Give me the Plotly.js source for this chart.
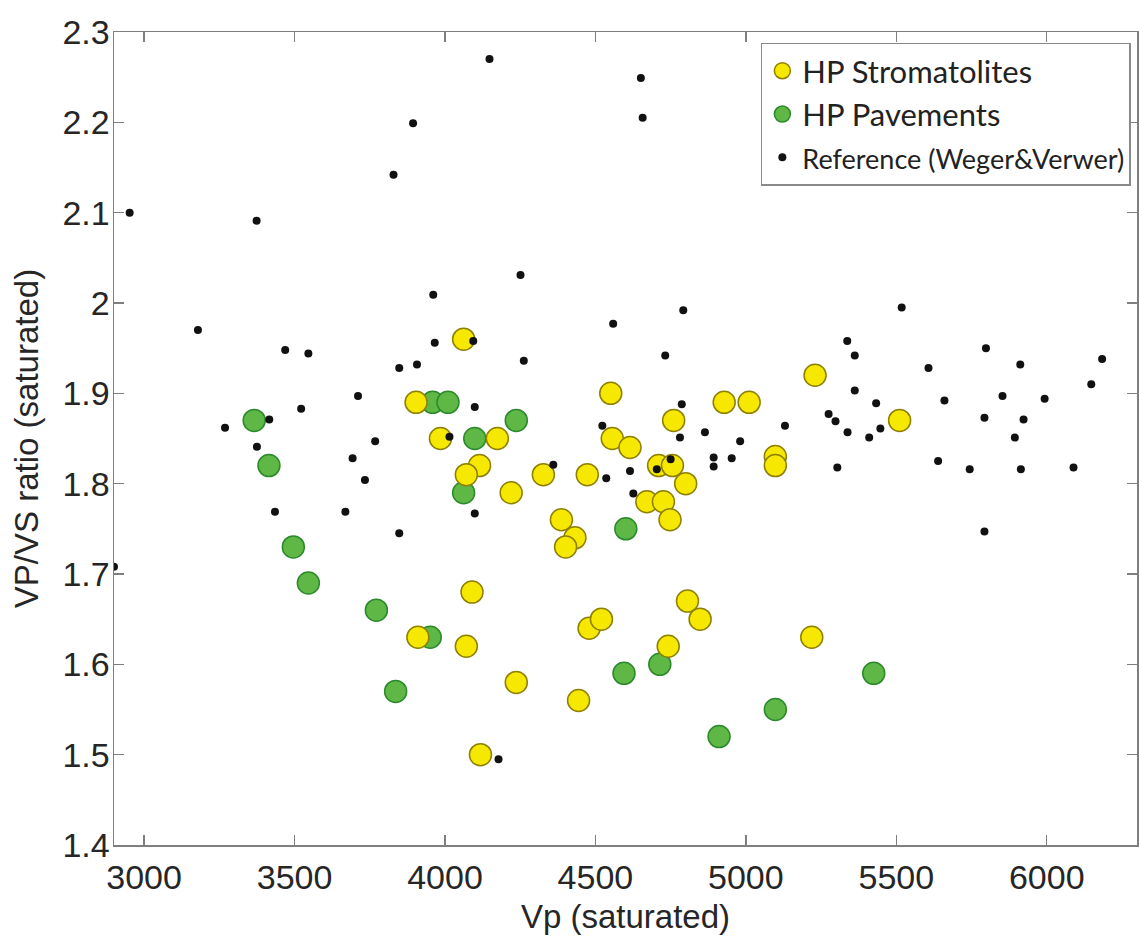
<!DOCTYPE html>
<html>
<head>
<meta charset="utf-8">
<script src="https://cdn.plot.ly/plotly-3.0.1.min.js"></script>
<style>html,body{margin:0;padding:0;background:#fff;}#chart{width:1139px;height:942px;}</style>
</head>
<body>
<div id="chart"></div>
<script>
// HP Stromatolites
const stromVp = [4062, 3904, 3985, 4174, 4115, 4071, 4220, 4327, 4473, 4551,
                 4556, 4615, 4760, 4928, 5011, 4710, 4756, 4800, 4671, 4726,
                 4748, 4387, 4432, 4401, 5098, 5098, 5230, 5511, 4090, 3910,
                 4071, 4237, 4444, 4118, 4479, 4520, 4806, 4848, 4742, 5219];
const stromRatio = [1.96, 1.89, 1.85, 1.85, 1.82, 1.81, 1.79, 1.81, 1.81, 1.90,
                    1.85, 1.84, 1.87, 1.89, 1.89, 1.82, 1.82, 1.80, 1.78, 1.78,
                    1.76, 1.76, 1.74, 1.73, 1.83, 1.82, 1.92, 1.87, 1.68, 1.63,
                    1.62, 1.58, 1.56, 1.50, 1.64, 1.65, 1.67, 1.65, 1.62, 1.63];
// HP Pavements
const paveVp = [3366, 3415, 3496, 3546, 3772, 3836, 3959, 4010, 4237, 4099,
                4062, 4601, 3951, 4595, 4714, 4911, 5098, 5425];
const paveRatio = [1.87, 1.82, 1.73, 1.69, 1.66, 1.57, 1.89, 1.89, 1.87, 1.85,
                   1.79, 1.75, 1.63, 1.59, 1.60, 1.52, 1.55, 1.59];
// Reference (Weger & Verwer)
const refVp = [2952, 3374, 3829, 4148, 3894, 4651, 4657, 4251, 3961, 4792,
               4559, 5518, 3179, 3469, 3546, 3848, 3907, 3711, 3522, 3416,
               3269, 3375, 3768, 3693, 3734, 3435, 3669, 3848, 2900, 3966,
               4094, 4262, 4732, 4099, 4787, 4523, 4864, 4781, 4981, 4015,
               4893, 4953, 4893, 4750, 4704, 4360, 4615, 4536, 4626, 4099,
               4178, 5337, 5362, 5607, 5798, 5912, 6184, 6148, 5362, 5433,
               5660, 5853, 5993, 5275, 5298, 5338, 5410, 5447, 5130, 5793,
               5923, 5894, 5304, 5639, 5744, 5914, 6089, 5793];
const refRatio = [2.10, 2.091, 2.142, 2.270, 2.199, 2.249, 2.205, 2.031, 2.009, 1.992,
                  1.977, 1.995, 1.970, 1.948, 1.944, 1.928, 1.932, 1.897, 1.883, 1.871,
                  1.862, 1.841, 1.847, 1.828, 1.804, 1.769, 1.769, 1.745, 1.708, 1.956,
                  1.958, 1.936, 1.942, 1.885, 1.888, 1.864, 1.857, 1.851, 1.847, 1.852,
                  1.829, 1.828, 1.819, 1.827, 1.816, 1.821, 1.814, 1.806, 1.789, 1.767,
                  1.495, 1.958, 1.942, 1.928, 1.950, 1.932, 1.938, 1.910, 1.903, 1.889,
                  1.892, 1.897, 1.894, 1.877, 1.869, 1.857, 1.851, 1.861, 1.864, 1.873,
                  1.871, 1.851, 1.818, 1.825, 1.816, 1.816, 1.818, 1.747];

const xTicks = [3000, 3500, 4000, 4500, 5000, 5500, 6000];
const yTicks = [1.4, 1.5, 1.6, 1.7, 1.8, 1.9, 2, 2.1, 2.2, 2.3];

const traces = [
  {
    type: 'scatter', mode: 'markers', name: 'HP Pavements',
    x: paveVp, y: paveRatio, legendrank: 2,
    marker: {size: 22, color: '#5FB845', line: {color: '#2B8A2B', width: 1.5}}
  },
  {
    type: 'scatter', mode: 'markers', name: 'HP Stromatolites',
    x: stromVp, y: stromRatio, legendrank: 1,
    marker: {size: 22, color: '#F6E800', line: {color: '#8E8000', width: 1.5}}
  },
  {
    type: 'scatter', mode: 'markers',
    name: '<span style="font-size:27px">Reference (Weger&amp;Verwer)</span>',
    x: refVp, y: refRatio, legendrank: 3,
    marker: {size: 8, color: '#111111'}
  }
];

const tickFont = {family: '"Liberation Sans", Arial, sans-serif', size: 34, color: '#262626'};
const titleFont = {family: '"Liberation Sans", Arial, sans-serif', size: 33, color: '#262626'};

const layout = {
  width: 1139, height: 942,
  paper_bgcolor: '#ffffff', plot_bgcolor: '#ffffff',
  margin: {l: 114, r: 2, t: 32, b: 97, pad: 0},
  showlegend: true,
  legend: {
    x: 0.994, xanchor: 'right', y: 0.987, yanchor: 'top',
    bgcolor: '#ffffff', bordercolor: '#8a8a8a', borderwidth: 1.5,
    font: {family: 'Lato, "Noto Sans", sans-serif', size: 31, color: '#222222'},
    traceorder: 'normal'
  },
  xaxis: {
    range: [2900, 6300], tickvals: xTicks,
    ticks: 'inside', ticklen: 10, tickwidth: 1.5, tickcolor: '#7f7f7f',
    showline: true, linecolor: '#7f7f7f', linewidth: 1.5, mirror: 'ticks',
    showgrid: false, zeroline: false,
    tickfont: tickFont, ticklabelstandoff: 2,
    title: {text: 'Vp (saturated)', font: titleFont, standoff: 9}
  },
  yaxis: {
    range: [1.4, 2.3], tickvals: yTicks,
    ticks: 'inside', ticklen: 10, tickwidth: 1.5, tickcolor: '#7f7f7f',
    showline: true, linecolor: '#7f7f7f', linewidth: 1.5, mirror: 'ticks',
    showgrid: false, zeroline: false,
    tickfont: tickFont, ticklabelstandoff: -4,
    title: {text: 'VP/VS ratio (saturated)', font: titleFont, standoff: 14}
  }
};

Plotly.newPlot('chart', traces, layout, {displayModeBar: false, staticPlot: true});
</script>
</body>
</html>
